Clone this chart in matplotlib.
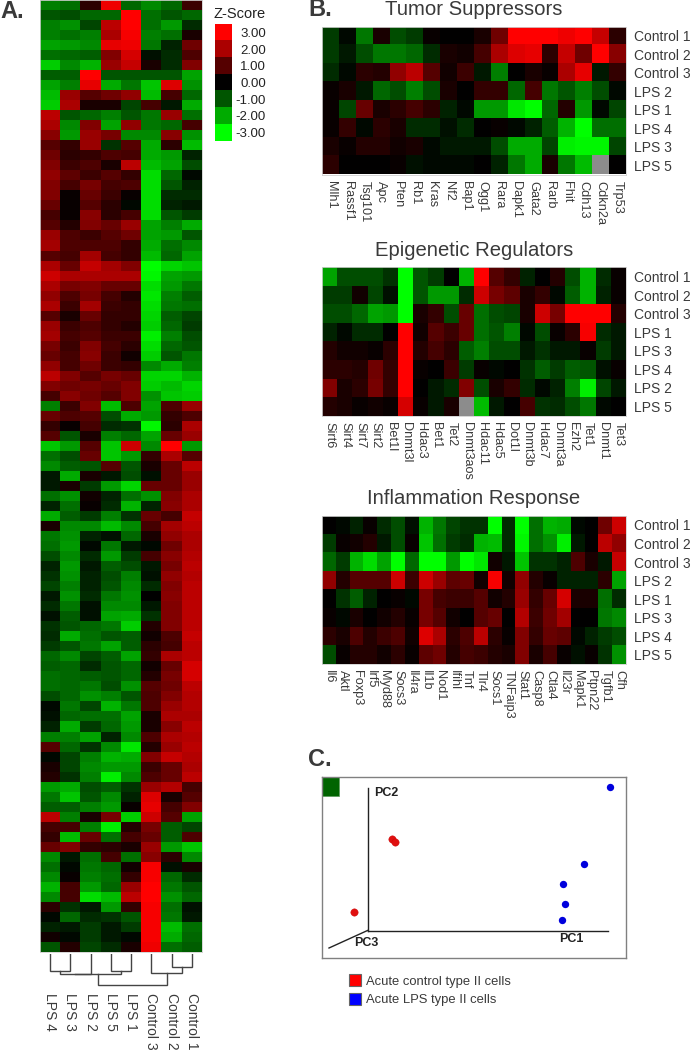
import numpy as np
import matplotlib
matplotlib.use("Agg")
import matplotlib.pyplot as plt
from matplotlib.colors import LinearSegmentedColormap
from matplotlib.patches import Rectangle

plt.rcParams['font.family'] = ['Liberation Sans', 'DejaVu Sans']

W, H = 692, 1050
nan = float('nan')

sample_labels = ["LPS 4", "LPS 3", "LPS 2", "LPS 5", "LPS 1", "Control 3", "Control 2", "Control 1"]
zscore_ticks = [3, 2, 1, 0, -1, -2, -3]
zscore_labels = ["3.00", "2.00", "1.00", "0.00", "-1.00", "-2.00", "-3.00"]

global_z = [
    [-1.5,-1.3,0.5,2.8,-1.2,-1.6,-1.2,0.7],
    [-1.0,-0.9,-1.2,-1.2,3.0,-1.3,-1.0,-1.2],
    [-1.5,-1.7,-0.8,2.2,3.0,-1.3,-1.8,-0.5],
    [-1.5,-1.3,-1.5,2.0,2.9,-1.5,-1.3,0.3],
    [-1.9,-1.8,-1.6,2.7,2.8,-1.4,-0.4,1.3],
    [-1.3,-1.2,-1.1,1.5,2.5,-0.2,-0.5,0.9],
    [-2.4,-1.6,-2.1,1.8,2.3,0.3,-0.5,1.5],
    [-1.1,-1.1,3.0,-1.0,-1.0,-1.0,-1.0,-1.9],
    [-1.9,-1.5,2.7,-2.0,-1.4,-2.3,2.6,-1.7],
    [-2.2,1.8,1.0,1.3,1.7,-2.2,0.8,-1.2],
    [-2.4,2.0,0.3,0.3,-0.8,0.8,-0.3,-2.0],
    [2.2,-1.0,-1.2,-1.5,-1.0,-1.4,1.8,-1.3],
    [2.0,-1.6,1.5,-1.9,1.7,-1.4,-1.2,0.8],
    [1.6,-1.8,1.8,1.4,-1.6,-1.6,1.6,-1.7],
    [1.0,0.6,1.8,-0.6,1.0,-2.0,0.5,-2.2],
    [1.3,0.5,0.6,0.9,0.8,-2.0,-1.8,-0.4],
    [1.5,0.7,0.9,0.3,2.2,-2.2,-1.9,-0.9],
    [1.7,1.1,0.7,1.0,0.6,-2.6,-1.2,-0.1],
    [1.5,0.8,1.4,0.8,0.9,-2.6,-1.0,-0.4],
    [1.5,0.1,1.2,0.7,0.1,-2.6,-0.5,-0.5],
    [1.2,0.1,1.0,0.5,-0.1,-2.6,-0.4,-0.3],
    [0.8,0.1,1.6,0.5,0.8,-2.6,-1.0,-0.7],
    [1.0,0.4,1.5,1.2,1.8,-1.9,-1.5,-2.0],
    [1.8,0.9,0.7,1.0,1.3,-1.9,-1.8,-1.0],
    [1.9,0.9,0.9,0.9,0.6,-2.0,-1.3,-1.6],
    [1.0,0.8,1.9,0.8,0.6,-2.2,-1.2,-1.9],
    [2.0,1.2,2.3,1.9,1.5,-3.0,-2.5,-2.3],
    [2.4,2.0,2.0,2.0,2.0,-2.9,-1.9,-1.8],
    [2.0,1.4,1.5,1.2,1.2,-2.6,-1.8,-1.4],
    [1.7,0.9,1.4,0.8,0.4,-2.7,-1.5,-1.1],
    [2.0,0.7,1.9,0.7,0.6,-2.6,-1.4,-1.3],
    [1.0,0.3,1.2,0.6,0.6,-2.5,-1.1,-0.8],
    [1.8,0.7,0.9,0.6,0.4,-2.4,-1.2,-0.7],
    [1.9,0.8,1.0,0.7,0.7,-2.8,-1.5,-0.9],
    [1.4,0.7,1.5,0.8,0.5,-2.6,-1.2,-1.0],
    [1.2,0.8,1.6,0.7,0.2,-2.4,-1.0,-1.4],
    [1.7,0.8,1.3,0.7,0.6,-1.6,-2.0,-1.5],
    [2.2,1.5,1.0,1.4,1.2,-2.5,-2.5,-2.1],
    [1.5,1.3,1.4,1.2,1.5,-2.4,-2.2,-2.5],
    [0.8,1.6,1.3,1.0,1.5,-1.7,-2.3,-2.4],
    [-1.5,0.7,1.5,-2.2,0.9,-1.9,0.9,1.8],
    [1.2,0.9,1.0,-0.9,-2.0,-1.8,0.6,0.9],
    [0.6,0.1,0.8,-0.5,-0.6,-2.9,0.5,2.0],
    [1.0,-1.0,0.3,-1.5,-1.2,-1.9,1.2,1.8],
    [-2.3,-1.8,1.0,-2.3,2.4,-1.6,3.0,-1.8],
    [-1.3,-0.9,1.2,-2.3,-1.8,0.6,2.0,1.0],
    [-1.6,-1.1,-1.0,1.0,-1.0,0.3,1.2,2.2],
    [-0.3,-2.0,0.3,-0.3,-0.9,-0.2,1.2,1.8],
    [-0.3,0.3,-0.7,-1.8,-2.5,1.2,1.2,1.8],
    [-1.3,-1.7,0.2,-0.4,-1.3,-1.7,1.5,2.0],
    [-0.4,-1.3,0.1,-0.5,-2.1,-0.4,1.6,2.0],
    [-2.0,-1.1,-0.7,-1.5,-0.6,1.2,0.8,2.3],
    [0.3,-1.6,-1.6,-2.2,-1.6,0.8,1.9,2.2],
    [-1.4,-1.7,-0.4,-0.2,-1.2,0.3,1.7,2.0],
    [-1.3,-1.8,-0.1,-1.4,-0.3,-0.1,1.3,2.0],
    [-0.9,-1.6,-0.5,-1.8,-0.7,0.8,1.6,2.1],
    [-0.4,-1.8,-0.3,-1.1,-0.9,-0.3,1.4,2.2],
    [-0.6,-1.7,-0.4,-0.9,-1.5,-0.2,1.7,2.1],
    [-0.8,-1.5,-0.4,-1.0,-1.6,-0.5,1.5,2.2],
    [-0.3,-1.7,-0.5,-1.4,-1.7,0.0,1.6,2.2],
    [-0.5,-1.4,-0.2,-1.6,-1.6,-0.3,1.5,2.2],
    [-0.2,-1.1,-0.2,-1.9,-2.0,-0.6,1.5,2.2],
    [-0.6,-1.0,-1.2,-1.4,-2.4,0.4,1.5,2.2],
    [-0.5,-2.0,-1.3,-1.0,-1.1,0.2,0.9,2.3],
    [-0.7,-1.0,-1.4,-1.9,-1.1,0.5,0.8,2.2],
    [-1.2,-1.6,-0.8,-1.1,-1.9,0.6,2.0,2.2],
    [-1.1,-1.2,-0.5,-1.0,-1.2,0.2,1.2,2.5],
    [-1.3,-1.2,-1.1,-1.0,-1.2,0.4,1.4,2.5],
    [-1.3,-1.2,-1.4,-0.9,-1.7,1.0,1.3,2.2],
    [-0.9,-1.2,-1.7,-1.5,-1.0,0.9,1.5,2.1],
    [-0.1,-1.4,-0.8,-2.1,-1.4,0.9,1.8,2.1],
    [-0.2,-1.2,-1.3,-1.3,-1.9,0.3,2.0,2.0],
    [-0.4,-2.0,-0.7,-1.2,-1.8,0.3,1.6,2.2],
    [-1.5,-1.5,-1.9,-0.4,-1.6,0.9,2.0,2.1],
    [1.0,-1.2,-0.6,-1.6,-2.7,0.4,1.8,2.2],
    [-0.1,-0.8,-1.5,-2.1,-2.0,1.5,2.3,2.1],
    [0.3,-0.8,-1.6,-1.8,-1.8,0.7,1.2,2.0],
    [0.4,-0.6,-1.5,-2.8,-1.6,0.9,1.2,2.2],
    [-1.8,-2.0,-0.9,-1.1,-0.6,1.8,2.1,0.8],
    [-1.4,-2.3,-1.0,-1.6,-0.4,2.6,0.3,1.0],
    [-1.1,-1.1,-1.5,-1.8,0.1,2.7,0.8,1.5],
    [2.2,-1.5,0.3,1.4,-2.4,2.4,1.0,-1.9],
    [0.8,0.8,-1.5,-2.8,0.4,1.4,-1.1,-0.8],
    [0.6,-2.2,1.2,-1.3,0.8,1.2,-1.1,0.9],
    [1.2,1.5,0.6,0.5,0.3,1.8,-1.8,-2.3],
    [-1.6,-0.3,-1.3,0.8,-1.3,1.6,0.5,-1.6],
    [-1.3,-0.1,-1.4,-1.2,0.2,2.9,-0.2,0.3],
    [-1.6,0.1,-1.5,-1.3,0.6,2.9,-1.2,-0.5],
    [-2.1,0.8,-1.8,-1.2,1.8,3.0,-1.4,-1.0],
    [-1.6,0.8,-2.6,-2.2,2.2,3.0,-1.7,-1.2],
    [0.5,-0.6,-0.3,-1.8,0.6,2.9,-1.3,-0.2],
    [-0.1,-1.2,-0.5,-0.6,-1.0,2.9,-1.4,-0.3],
    [-0.4,-0.3,-0.7,-0.3,-0.7,2.9,-2.2,-1.3],
    [0.2,-0.1,-0.7,-0.3,-0.1,2.9,-2.0,-1.2],
    [-1.0,0.4,-0.8,-0.5,0.3,2.8,-1.3,-1.1],
]

tumor_genes = ["Mlh1","Rassf1","Tsg101","Apc","Pten","Rb1","Kras","Nf2","Bap1","Ogg1","Rara","Dapk1","Gata2","Rarb","Fhit","Cdh13","Cdkn2a","Trp53"]
tumor_rows = ["Control 1","Control 2","Control 3","LPS 2","LPS 1","LPS 4","LPS 3","LPS 5"]
tumor_z = [
    [-0.7,-0.1,-1.4,0.3,-0.9,-0.7,0.1,0,0,0.3,1.3,3,3,3,2.8,3,2.3,0.5],
    [-0.7,-0.3,-0.9,-1.4,-1.4,-1.2,-0.5,0.3,0.2,0.8,2,2.6,2.7,0.5,2.3,1.3,3,1.6],
    [-0.5,-0.1,0.5,0.4,1.7,2.2,1,0.2,0.7,-0.3,-1.5,0,0.3,0.1,2,2.7,-0.3,0.6],
    [0.1,0.3,-0.3,-1.2,-0.9,-1.5,-0.9,0.3,0,0.6,0.6,-1.2,0.8,-1.4,-1.0,-1.5,-0.9,-0.1],
    [0.1,-0.8,1.2,0.3,0.5,0.8,0.5,-0.4,-0.1,-1.8,-1.8,-2.7,-3,-1.2,0.4,-1.8,-0.1,-0.8],
    [0.1,0.6,-0.1,0.5,0.3,-0.5,-0.5,-0.2,-0.5,0,0.1,-0.1,-0.4,-1.1,-2.1,-3,-1.3,-1.3],
    [0.3,0.1,0.4,0.4,0.2,0.3,-0.1,-0.3,-0.3,-0.3,-0.9,-2,-2,-0.8,-2.8,-2.9,-2.9,-0.8],
    [0.5,0,0,0,0.1,-0.2,-0.1,-0.1,-0.1,0,-0.4,-1.4,-2,0.3,-1.4,-2.2,nan,0],
]

epi_genes = ["Sirt6","Sirt4","Sirt7","Sirt2","Bet1l","Dnmt3l","Hdac3","Bet1","Tet2","Dnmt3aos","Hdac11","Hdac5","Dot1l","Dnmt3b","Hdac7","Dnmt3a","Ezh2","Tet1","Dnmt1","Tet3"]
epi_rows = ["Control 1","Control 2","Control 3","LPS 1","LPS 3","LPS 4","LPS 2","LPS 5"]
epi_z = [
    [-1.9,-0.9,-0.9,-0.9,-0.6,-3,-1.0,-0.7,0,-2.1,3,1,0.6,-0.4,0,0.4,-0.9,-2.1,-0.5,0.1],
    [-0.7,-0.7,0.2,-0.8,-0.2,-3,-1.0,-1.8,-1.8,-0.5,2.4,1.4,1.1,0.3,0.6,-0.1,-1.1,-2.1,-0.4,0.1],
    [-0.9,-0.9,-1.2,-1.9,-1.8,-3,0.3,0.6,-0.9,1.2,-1.3,-0.9,-0.8,0.3,2.4,1.4,3,3,3,0.4],
    [-0.4,-0.1,-0.5,-0.5,0,3,0.2,1.0,0.7,1.2,-1.3,-1.0,-1.5,-0.1,-0.9,0.1,0.5,2.9,-0.5,-0.3],
    [0.4,0.2,0.2,0.1,0.5,3,0.4,0.8,0.5,-1.1,-1.5,-0.9,-0.9,-0.3,-0.6,-0.3,-0.3,0.1,-0.7,-0.3],
    [0.5,0.5,0.4,1.3,0.6,3,0.1,0,0.7,-0.7,0.1,-0.1,0,-0.6,-1.1,-0.7,-1.1,-1.0,-0.2,0.1],
    [1.5,0.3,0.5,1.4,0.6,3,0,-0.3,-0.5,1.5,-0.9,0.3,0.6,-0.5,-0.1,-0.4,-1.5,-2.8,-0.8,-0.3],
    [0.4,0.3,0.1,0.2,0.1,2.5,0.1,-0.3,0.3,nan,-2.2,-0.3,0,0.8,-0.6,-0.5,-0.9,-1.4,-0.1,0],
]

inflam_genes = ["Il6","Aktl","Foxp3","Irf5","Myd88","Socs3","Il4ra","Il1b","Nod1","Ifihl","Tnf","Tlr4","Socs1","TNFaip3","Stat1","Casp8","Ctla4","Il23r","Mapk1","Ptpn22","Tgfb1","Cfh"]
inflam_rows = ["Control 1","Control 2","Control 3","LPS 2","LPS 1","LPS 3","LPS 4","LPS 5"]
inflam_z = [
    [0,-0.1,-0.4,0.1,-0.5,-0.9,-0.2,-2.1,-1.4,-0.8,-0.6,-0.6,-3,-0.5,-3,-1.3,-2.1,-2,-0.1,0,1.3,2.4],
    [-0.7,0.1,0.2,0.4,-0.3,-0.9,0.1,-2.3,-1.3,-0.7,-0.5,-2.1,-2.2,-0.5,-2.9,-1.3,-1.7,-2.8,-0.3,0,2.2,1.7],
    [-1.2,-0.7,-2.1,-2.6,-1.9,-3,-1.2,-3,-3,-1.8,-3,-2.7,0.2,-0.3,-2.3,-0.6,-0.6,-0.4,0.9,0.3,-0.3,2.3],
    [1.7,0.4,1.0,1.0,1.0,2.4,0.7,2.4,1.8,1.1,1.2,0.2,2.9,0.2,1.7,0.4,0.1,-0.4,-0.4,-0.4,0.5,-1.9],
    [0,-0.6,-1.1,-0.4,0,0.1,-0.1,1.4,0.8,0.7,0.7,1.0,0.2,0.4,1.8,0.6,1.2,2.5,0.3,0.3,-1.3,-0.5],
    [0.1,-0.1,0.3,0,0.2,0.4,0.1,1.4,1.0,0.2,0,1.0,1.2,0,2.1,0.7,1.3,1.9,0,0,-1.4,-1.6],
    [0.5,0.3,0.9,0.4,0.7,0.9,0.2,2.6,2.0,0.5,0.9,2.2,0.5,0.1,1.5,0.6,1.2,1.1,-0.1,-0.4,-0.7,-0.9],
    [-0.9,0.1,0.4,0.4,0.2,0.5,0.1,1.1,1.3,0.4,0.8,0.7,0.4,0.3,1.5,0.3,0.8,0.1,-0.2,0.1,-0.6,-1.7],
]

pc1_control = [24, 27, -14]
pc2_control = [91.5, 88.5, 18.5]
pc1_lps = [242.5, 216.5, 195, 197, 194]
pc2_lps = [143.5, 66.5, 46.5, 26.5, 10.5]

# left x, right x, left start, right start, merge level
dendro_merges = [
    (0.5, 1.5, 0, 0, 17),
    (1.0, 2.5, 17, 0, 20),
    (3.5, 4.5, 0, 0, 17),
    (1.75, 4.0, 20, 17, 20),
    (6.5, 7.5, 0, 0, 13),
    (5.5, 7.0, 0, 13, 19),
    (2.875, 6.25, 20, 19, 31),
]

TEXT = '#3a3a3a'
fig = plt.figure(figsize=(W / 100, H / 100), dpi=100)


def axpx(x0, y0, x1, y1, **kw):
    return fig.add_axes([x0 / W, 1 - y1 / H, (x1 - x0) / W, (y1 - y0) / H], **kw)


def ftxt(x, y, s, **kw):
    kw.setdefault('color', TEXT)
    return fig.text(x / W, 1 - y / H, s, **kw)


cmap = LinearSegmentedColormap.from_list('gbr', ['#00ff00', '#000000', '#ff0000'], N=256)
cmap.set_bad('#8c8c8c')

# Panel A
ax = axpx(40, 0, 202, 952)
ax.imshow(np.array(global_z), cmap=cmap, vmin=-3, vmax=3, aspect='auto', interpolation='nearest')
ax.set_xticks([]); ax.set_yticks([])
for s in ax.spines.values():
    s.set_color('#d0d0d0'); s.set_linewidth(0.6)

# Dendrogram
ax = axpx(40, 954, 202, 990)
ax.set_xlim(0, 8); ax.set_ylim(36, 0); ax.axis('off')
dc = '#444444'
for xa, xb, ya, yb, top in dendro_merges:
    ax.plot([xa, xa, xb, xb], [ya, top, top, yb], color=dc, lw=1.0, solid_joinstyle='miter')
for i, lab in enumerate(sample_labels):
    ax.text(i + 0.5, 39, lab, rotation=270, ha='center', va='top', fontsize=10, color=TEXT, clip_on=False)

# Z-score legend
ax = axpx(215, 24, 232, 141)
ax.imshow(np.array(zscore_ticks).reshape(-1, 1), cmap=cmap, vmin=-3, vmax=3, aspect='auto', interpolation='nearest')
ax.set_xticks([])
ax.yaxis.tick_right()
ax.set_yticks(range(len(zscore_labels)))
ax.set_yticklabels(zscore_labels, fontsize=9.5, color='#222222')
ax.tick_params(axis='y', length=0, pad=24.5)
for t in ax.get_yticklabels():
    t.set_ha('right')
for s in ax.spines.values():
    s.set_visible(False)
ftxt(240, 14, 'Z-Score', ha='center', va='center', fontsize=10.5, color='#222222')

ftxt(0, 11.5, 'A.', ha='left', va='center', fontsize=17, fontweight='bold')
ftxt(308, 10, 'B.', ha='left', va='center', fontsize=17, fontweight='bold')
ftxt(308, 760, 'C.', ha='left', va='center', fontsize=17, fontweight='bold')


def small_heat(y0, y1, data, genes, rows, title, title_y):
    ax = axpx(322.3, y0, 626, y1)
    ax.imshow(np.array(data, dtype=float), cmap=cmap, vmin=-3, vmax=3, aspect='auto', interpolation='nearest')
    ax.set_xticks(range(len(genes)))
    ax.set_xticklabels(genes, rotation=270, ha='center', va='top', fontsize=9.2, color=TEXT)
    ax.yaxis.tick_right()
    ax.set_yticks(range(len(rows)))
    ax.set_yticklabels(rows, fontsize=10, color=TEXT)
    ax.tick_params(axis='x', length=0, pad=4.5)
    ax.tick_params(axis='y', length=0, pad=5.5)
    for s in ax.spines.values():
        s.set_color('#d0d0d0'); s.set_linewidth(0.6)
    ftxt(474, title_y, title, ha='center', va='center', fontsize=14.6)


small_heat(26.5, 174.5, tumor_z, tumor_genes, tumor_rows, 'Tumor Suppressors', 9.5)
small_heat(267.3, 415.7, epi_z, epi_genes, epi_rows, 'Epigenetic Regulators', 250.5)
small_heat(515.7, 664, inflam_z, inflam_genes, inflam_rows, 'Inflammation Response', 499)

# Panel C
ax = axpx(322.3, 777, 626, 958)
ax.set_xlim(-45.2, 258.5)
ax.set_ylim(-27.5, 153.5)
ax.set_xticks([]); ax.set_yticks([])
for s in ax.spines.values():
    s.set_color('#808080'); s.set_linewidth(1.0)
ax.add_patch(Rectangle((0, 1), 17 / 303.7, -19 / 181, transform=ax.transAxes, facecolor='#006400', edgecolor='#5a9a5a', lw=0.5))
ax.plot([0, 0], [0, 142.5], color='#222222', lw=1.0)
ax.plot([0, 240.5], [0, 0], color='#222222', lw=1.0)
ax.plot([0, -38.5], [0, -17.5], color='#222222', lw=1.0)
ax.scatter(pc1_control, pc2_control, s=28, color='#e01010', edgecolor='#cc0000', lw=0.3, zorder=3)
ax.scatter(pc1_lps, pc2_lps, s=28, color='#0000dd', lw=0, zorder=3)
ax.text(6.5, 137.5, 'PC2', fontsize=9, fontweight='bold', color='#222222', va='center', ha='left')
ax.text(192, -8.5, 'PC1', fontsize=9, fontweight='bold', color='#222222', va='center', ha='left')
ax.text(-13.5, -12.5, 'PC3', fontsize=9, fontweight='bold', color='#222222', va='center', ha='left')

# Legend of panel C
ax = axpx(340, 970, 560, 1010)
ax.set_xlim(340, 560); ax.set_ylim(1010, 970); ax.axis('off')
for yc, col, lab in [(980, '#ff0000', 'Acute control type II cells'), (998.5, '#0000ff', 'Acute LPS type II cells')]:
    ax.add_patch(Rectangle((349, yc - 6), 12, 12, facecolor=col, edgecolor='#666666', lw=0.8))
    ax.text(365.5, yc + 1.5, lab, fontsize=9.4, color=TEXT, va='center', ha='left')

fig.savefig('out.png', dpi=100)
